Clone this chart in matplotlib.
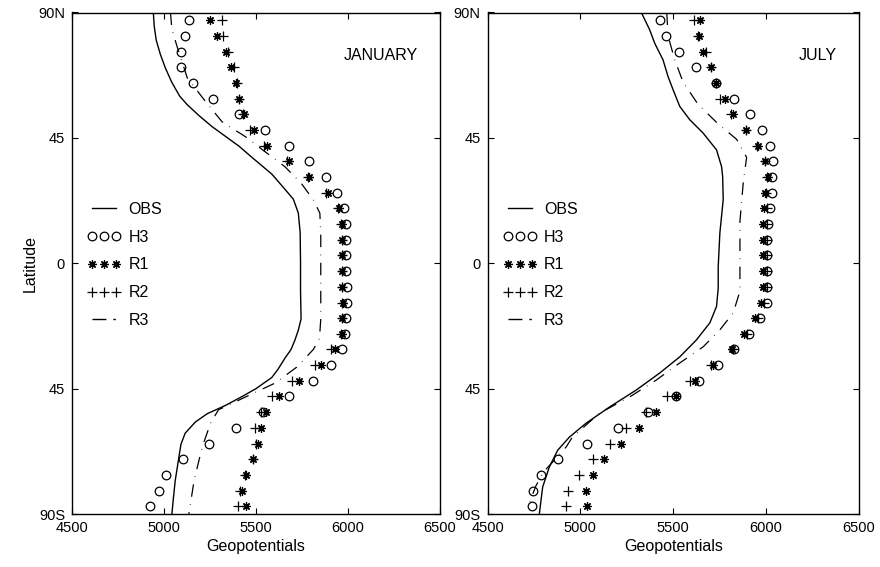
import matplotlib
matplotlib.use("Agg")
import matplotlib.pyplot as plt
from matplotlib.lines import Line2D

plt.rcParams['font.family'] = ['Liberation Sans', 'DejaVu Sans']

# Model latitudes (32 Gaussian-like rows)
lats = [87.2, 81.6, 75.9, 70.3, 64.7, 59.1, 53.4, 47.8, 42.2, 36.6, 30.9, 25.3,
        19.7, 14.1, 8.4, 2.8, -2.8, -8.4, -14.1, -19.7, -25.3, -30.9, -36.6, -42.2,
        -47.8, -53.4, -59.1, -64.7, -70.3, -75.9, -81.6, -87.2]

# ---------------- JANUARY ----------------
jan_h3 = [5137, 5113, 5090, 5092, 5155, 5268, 5406, 5547, 5678, 5790, 5878, 5941,
          5979, 5991, 5991, 5991, 5991, 5993, 5993, 5991, 5985, 5968, 5906, 5811,
          5680, 5538, 5392, 5245, 5101, 5011, 4971, 4925]
jan_r1 = [5250, 5290, 5335, 5365, 5392, 5406, 5433, 5487, 5560, 5680, 5790, 5892,
          5950, 5965, 5968, 5970, 5970, 5970, 5972, 5970, 5968, 5930, 5851, 5736,
          5626, 5554, 5529, 5509, 5484, 5448, 5425, 5443]
jan_r2 = [5313, 5322, 5350, 5378, 5395, 5406, 5430, 5470, 5545, 5668, 5780, 5880,
          5945, 5962, 5965, 5965, 5965, 5965, 5965, 5965, 5962, 5910, 5820, 5698,
          5586, 5529, 5497, 5500, 5482, 5440, 5415, 5403]
jan_obs_lat = [90, 85, 80, 75, 70, 65, 60, 57, 53, 49, 45.5, 42, 38, 32, 26.5, 23,
               18, 11, 0, -10, -20, -24, -27.5, -31, -34, -38, -41, -45, -48, -51,
               -54, -57, -61, -65, -70, -78, -85, -90]
jan_obs = [4942, 4947, 4958, 4980, 5008, 5042, 5085, 5125, 5190, 5262, 5335, 5408,
           5478, 5586, 5658, 5703, 5730, 5740, 5742, 5742, 5745, 5730, 5712, 5690,
           5658, 5620, 5586, 5500, 5420, 5335, 5235, 5170, 5115, 5092, 5080, 5061,
           5050, 5043]
jan_r3_lat = [90, 84, 78, 72, 66.6, 58.7, 50.8, 45.4, 40, 34.6, 28.6, 22.8, 18, 10,
              0, -10, -20, -27, -31, -37.3, -43, -48, -52.6, -57.4, -65.9, -77.8, -90]
jan_r3 = [5035, 5043, 5070, 5100, 5126, 5218, 5315, 5443, 5550, 5658, 5747, 5811,
          5847, 5852, 5852, 5852, 5852, 5845, 5811, 5721, 5604, 5443, 5296, 5253,
          5208, 5164, 5135]

# ---------------- JULY ----------------
jul_h3 = [5431, 5463, 5531, 5622, 5730, 5829, 5913, 5980, 6021, 6036, 6030, 6030,
          6021, 6012, 6007, 6007, 6007, 6007, 6003, 5969, 5906, 5829, 5742, 5638,
          5513, 5364, 5202, 5035, 4882, 4788, 4743, 4740]
jul_r1 = [5643, 5639, 5661, 5701, 5730, 5778, 5820, 5890, 5958, 5994, 6010, 5995,
          5990, 5982, 5982, 5984, 5982, 5982, 5971, 5940, 5881, 5814, 5715, 5616,
          5513, 5406, 5314, 5217, 5125, 5067, 5031, 5035]
jul_r2 = [5611, 5635, 5675, 5701, 5730, 5751, 5810, 5890, 5950, 5995, 6005, 6000,
          6005, 6005, 6005, 6005, 6005, 6005, 5990, 5955, 5895, 5820, 5705, 5589,
          5469, 5352, 5247, 5157, 5067, 4992, 4932, 4920]
jul_obs_lat = [90, 83.8, 79, 73, 67, 62.3, 56.3, 51.5, 46.7, 40.7, 34.7, 31.1, 22.8,
               10.9, -1.3, -9, -15.5, -21.4, -27.5, -33.6, -39.4, -45.5, -51.6,
               -57.4, -62.4, -67.1, -73.1, -80.3, -90]
jul_obs = [5328, 5373, 5400, 5445, 5472, 5499, 5535, 5589, 5661, 5733, 5760, 5766,
           5769, 5751, 5742, 5742, 5733, 5697, 5625, 5535, 5427, 5301, 5157, 5031,
           4941, 4878, 4833, 4797, 4779]
jul_r3_lat = [90, 81.6, 73, 65, 57, 50, 44.5, 38, 29, 15, -3, -10, -17.8, -23.9,
              -30, -35.8, -41.9, -48, -53.8, -62.4, -66, -70, -75, -80, -87]
jul_r3 = [5465, 5472, 5508, 5553, 5634, 5742, 5841, 5895, 5877, 5859, 5859, 5859,
          5823, 5751, 5661, 5535, 5409, 5265, 5103, 4957, 4923, 4870, 4800, 4760, 4720]

xticks = [4500, 5000, 5500, 6000, 6500]
yticks = [90, 45, 0, -45, -90]
ytick_labels = ['90N', '45', '0', '45', '90S']
labels = ['OBS', 'H3', 'R1', 'R2', 'R3']

fig = plt.figure(figsize=(8.8, 5.67), dpi=100)
ax1 = fig.add_axes([72 / 880, 1 - 514 / 567, 368 / 880, 501.5 / 567])
ax2 = fig.add_axes([487.5 / 880, 1 - 514 / 567, 371.5 / 880, 501.5 / 567])

R3_STYLE = (0, (10, 6, 0.5, 6))
ast = (8, 2, 0)
AST_MS = 6.0
AST_MEW = 0.9


def draw(ax, obs_lat, obs, r3_lat, r3, h3, r1, r2, title, tx):
    ax.plot(obs, obs_lat, color='black', lw=1.0)
    ax.plot(r3, r3_lat, color='black', lw=0.9, linestyle=R3_STYLE)
    ax.plot(h3, lats, linestyle='none', marker='o', ms=6.2, mfc='none',
            mec='black', mew=0.9)
    ax.plot(r1, lats, linestyle='none', marker=ast, ms=AST_MS, color='black',
            mew=AST_MEW)
    ax.plot(r2, lats, linestyle='none', marker='+', ms=7, color='black', mew=0.9)
    ax.set_xlim(4500, 6500)
    ax.set_ylim(-90, 90)
    ax.set_xticks(xticks)
    ax.set_yticks(yticks)
    ax.set_yticklabels(ytick_labels)
    ax.tick_params(direction='in', length=4, width=0.8, top=True, right=True,
                   labelsize=10.5, pad=5)
    for s in ax.spines.values():
        s.set_linewidth(1.0)
    ax.set_xlabel('Geopotentials', fontsize=11.5, labelpad=3)
    ax.text(tx, 0.915, title, transform=ax.transAxes, ha='center',
            va='center', fontsize=11.5)
    handles = [
        Line2D([], [], color='black', lw=1.0),
        Line2D([], [], linestyle='none', marker='o', ms=6.2, mfc='none',
               mec='black', mew=0.9),
        Line2D([], [], linestyle='none', marker=ast, ms=AST_MS, color='black',
               mew=AST_MEW),
        Line2D([], [], linestyle='none', marker='+', ms=7, color='black', mew=0.9),
        Line2D([], [], color='black', lw=1.0, linestyle=(0, (10, 5, 1.8, 20))),
    ]
    ax.legend(handles, labels, loc='upper left', bbox_to_anchor=(0.025, 0.635),
              frameon=False, numpoints=3, fontsize=11.5, handlelength=2.1,
              handletextpad=0.45, labelspacing=0.8, borderaxespad=0)


draw(ax1, jan_obs_lat, jan_obs, jan_r3_lat, jan_r3, jan_h3, jan_r1, jan_r2,
     'JANUARY', 0.84)
draw(ax2, jul_obs_lat, jul_obs, jul_r3_lat, jul_r3, jul_h3, jul_r1, jul_r2,
     'JULY', 0.89)
ax1.set_ylabel('Latitude', fontsize=11.5, labelpad=0)

fig.savefig('out.png', dpi=100)
